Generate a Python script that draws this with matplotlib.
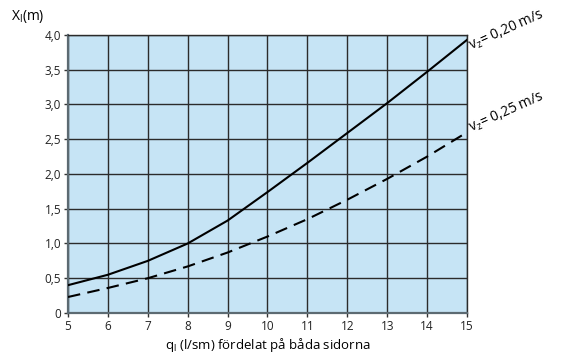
import matplotlib.pyplot as plt
import numpy as np

plt.rcParams['font.family'] = ['Open Sans', 'DejaVu Sans']
plt.rcParams['mathtext.fontset'] = 'custom'
plt.rcParams['mathtext.rm'] = 'Open Sans'
plt.rcParams['mathtext.sf'] = 'Open Sans'

# flow per metre, both sides (l/sm)
q = [5, 6, 7, 8, 9, 10, 11, 12, 13, 14, 15]
# throw length X_l (m) for the two terminal velocities
x_020 = [0.40, 0.55, 0.75, 1.00, 1.33, 1.74, 2.16, 2.59, 3.02, 3.47, 3.93]
x_025 = [0.23, 0.36, 0.50, 0.67, 0.87, 1.10, 1.35, 1.63, 1.93, 2.25, 2.60]

xticks = [5, 6, 7, 8, 9, 10, 11, 12, 13, 14, 15]
yticks = [0, 0.5, 1.0, 1.5, 2.0, 2.5, 3.0, 3.5, 4.0]
ytick_labels = ['0', '0,5', '1,0', '1,5', '2,0', '2,5', '3,0', '3,5', '4,0']

fig = plt.figure(figsize=(5.68, 3.6), dpi=100)
ax = fig.add_axes([0.1197, 0.1306, 0.7025, 0.7722])
ax.set_facecolor('#c6e4f5')

ax.plot(q, x_020, color='black', linewidth=1.5, zorder=3)
ax.plot(q, x_025, color='black', linewidth=1.5, linestyle=(0, (6, 3.5)), zorder=3)

ax.set_xlim(5, 15)
ax.set_ylim(0, 4)
ax.set_xticks(xticks)
ax.set_xticklabels([str(t) for t in xticks], fontsize=8.5, color='#222222')
ax.set_yticks(yticks)
ax.set_yticklabels(ytick_labels, fontsize=8.5, color='#222222')
ax.tick_params(direction='out', length=3, width=1, color='#333333', pad=2)

ax.grid(True, color='#2b2b2b', linewidth=1.0, zorder=1)
ax.set_axisbelow(True)
for side in ['top', 'right']:
    ax.spines[side].set_color('#2b2b2b')
    ax.spines[side].set_linewidth(1.0)
for side in ['left', 'bottom']:
    ax.spines[side].set_color('#5c6a72')
    ax.spines[side].set_linewidth(1.6)

ax.set_xlabel(r'q$_\mathregular{l}$ (l/sm) fördelat på båda sidorna', fontsize=9.5, labelpad=2)
fig.text(0.02, 0.955, r'X$_\mathregular{l}$(m)', fontsize=10, ha='left', va='center')

# curve labels at the right end
ax.text(15.15, x_020[-1] - 0.2, r'v$_\mathregular{z}$= 0,20 m/s', fontsize=10,
        rotation=24, rotation_mode='anchor', ha='left', va='bottom', clip_on=False)
ax.text(15.15, x_025[-1] - 0.05, r'v$_\mathregular{z}$= 0,25 m/s', fontsize=10,
        rotation=24, rotation_mode='anchor', ha='left', va='bottom', clip_on=False)

fig.savefig('out.png', dpi=100)
